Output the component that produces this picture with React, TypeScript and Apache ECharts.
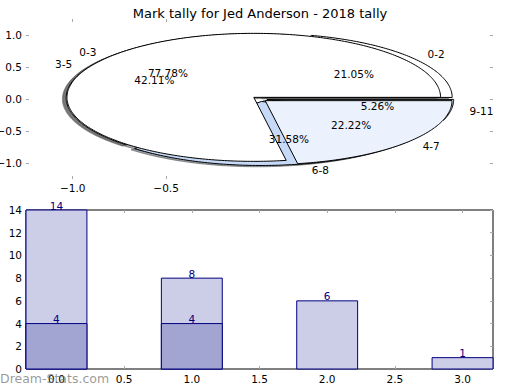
import React, { useEffect, useRef } from 'react';
import * as echarts from 'echarts';

const TITLE = 'Mark tally for Jed Anderson - 2018 tally';
const WATERMARK = 'Dream-Stats.com';

// Pie data (two pies drawn in the same axes)
const pie1Labels = ['0-2', '3-5', '6-8', '9-11'];
const pie1Values = [4, 8, 6, 1];
const pie1Colors = ['#ffffff', '#ffffff', '#c6d9f7', '#dce7fa'];
const pie2Labels = ['0-3', '4-7'];
const pie2Values = [14, 4];
const pie2Colors = ['#ffffff', '#ebf1fd'];
const EXPLODE = 0.04;
const SHADOW_OFFSET = -0.02;

// Bar data
const barX = [0, 1, 2, 3];
const lightValues = [14, 8, 6, 1];
const darkX = [0, 1];
const darkValues = [4, 4];
const BAR_WIDTH = 0.45;

// Tick values
const pieTicksX = [-1, -0.5];
const pieTicksY = [-1, -0.5, 0, 0.5, 1];
const barTicksX = [0, 0.5, 1, 1.5, 2, 2.5, 3];

const FONT = 'DejaVu Sans';
const TICK_COLOR = '#a8a8a8';

type Wedge = { theta1: number; theta2: number; mid: number; cx: number; cy: number; label: string; pct: string; color: string };

function buildWedges(values: number[], labels: string[], colors: string[]): Wedge[] {
  const total = values.reduce((a, b) => a + b, 0);
  let t1 = 0;
  return values.map((v, i) => {
    const t2 = t1 + (v / total) * 360;
    const mid = ((t1 + t2) / 2) * Math.PI / 180;
    const w: Wedge = {
      theta1: t1, theta2: t2, mid,
      cx: EXPLODE * Math.cos(mid), cy: EXPLODE * Math.sin(mid),
      label: labels[i], pct: ((v / total) * 100).toFixed(2) + '%', color: colors[i],
    };
    t1 = t2;
    return w;
  });
}

const wedges1 = buildWedges(pie1Values, pie1Labels, pie1Colors);
const wedges2 = buildWedges(pie2Values, pie2Labels, pie2Colors);
const allWedges = [...wedges1, ...wedges2];

function wedgePoints(w: Wedge, dx: number, dy: number, api: any): number[][] {
  const pts: number[][] = [api.coord([w.cx + dx, w.cy + dy])];
  const n = Math.max(2, Math.ceil(w.theta2 - w.theta1));
  for (let k = 0; k <= n; k++) {
    const t = (w.theta1 + ((w.theta2 - w.theta1) * k) / n) * Math.PI / 180;
    pts.push(api.coord([w.cx + dx + Math.cos(t), w.cy + dy + Math.sin(t)]));
  }
  return pts;
}

function shadowColor(hex: string): string {
  const r = parseInt(hex.slice(1, 3), 16);
  const g = parseInt(hex.slice(3, 5), 16);
  const b = parseInt(hex.slice(5, 7), 16);
  return `rgba(${Math.round(r * 0.3)},${Math.round(g * 0.3)},${Math.round(b * 0.3)},0.5)`;
}

const fmtPie = (v: number) => (v < 0 ? '\u2212' : '') + Math.abs(v).toFixed(1);

function wedgeSeries(list: Wedge[]) {
  return {
    type: 'custom', coordinateSystem: 'cartesian2d', xAxisIndex: 0, yAxisIndex: 0, silent: true, clip: false,
    encode: { x: 0, y: 1 },
    data: list.map((w) => [w.cx, w.cy]),
    renderItem: (params: any, api: any) => {
      const w = list[params.dataIndex];
      return {
        type: 'polygon',
        shape: { points: wedgePoints(w, 0, 0, api) },
        style: { fill: w.color, stroke: '#000', lineWidth: 1 },
      };
    },
  };
}

function barSeries(xs: number[], vals: number[], fill: string) {
  return {
    type: 'custom', coordinateSystem: 'cartesian2d', xAxisIndex: 2, yAxisIndex: 2, silent: true, clip: false,
    encode: { x: 0, y: 1 },
    data: xs.map((x, i) => [x, vals[i]]),
    renderItem: (params: any, api: any) => {
      const x = api.value(0);
      const y = api.value(1);
      const p0 = api.coord([x - BAR_WIDTH / 2, y]);
      const p1 = api.coord([x + BAR_WIDTH / 2, 0]);
      return {
        type: 'group',
        children: [
          {
            type: 'rect',
            shape: { x: p0[0], y: p0[1], width: p1[0] - p0[0], height: p1[1] - p0[1] },
            style: { fill, stroke: '#000080', lineWidth: 1 },
          },
          {
            type: 'text',
            x: (p0[0] + p1[0]) / 2,
            y: p0[1] + 1,
            z2: 10,
            style: { text: String(y), fill: '#000080', fontSize: 10.5, fontFamily: FONT, align: 'center', verticalAlign: 'bottom' },
          },
        ],
      };
    },
  };
}

export default function App() {
  const ref = useRef<HTMLDivElement>(null);

  useEffect(() => {
    if (!ref.current) return;
    const chart = echarts.init(ref.current, null, { renderer: 'svg' });

    const tickBase = { show: true, inside: true, length: 3, lineStyle: { color: TICK_COLOR, width: 1 } };
    const labelBase = { fontSize: 10.5, fontFamily: FONT, color: '#000' };
    const lineOff = { show: false, onZero: false };

    const option: any = {
      animation: false,
      backgroundColor: '#ffffff',
      title: {
        text: TITLE, left: 'center', top: 2,
        textStyle: { fontSize: 13, fontWeight: 'normal', fontFamily: FONT, color: '#000' },
      },
      grid: [
        { left: 26, top: 19, width: 467, height: 160, show: false, containLabel: false, outerBoundsMode: 'none' },
        { left: 26, top: 210, width: 467, height: 159, show: true, borderColor: '#000', borderWidth: 1, backgroundColor: 'transparent', containLabel: false, outerBoundsMode: 'none' },
      ],
      xAxis: [
        { type: 'value', gridIndex: 0, position: 'bottom', min: -1.25, max: 1.25, axisLine: lineOff, splitLine: { show: false },
          axisTick: { ...tickBase, customValues: pieTicksX },
          axisLabel: { ...labelBase, margin: 3, customValues: pieTicksX, formatter: fmtPie } },
        { type: 'value', gridIndex: 0, position: 'top', min: -1.25, max: 1.25, axisLine: lineOff, splitLine: { show: false },
          axisTick: { ...tickBase, customValues: pieTicksX }, axisLabel: { show: false } },
        { type: 'value', gridIndex: 1, position: 'bottom', min: -0.225, max: 3.225, axisLine: lineOff, splitLine: { show: false },
          axisTick: { ...tickBase, customValues: barTicksX },
          axisLabel: { ...labelBase, margin: 4, customValues: barTicksX, formatter: (v: number) => v.toFixed(1) } },
        { type: 'value', gridIndex: 1, position: 'top', min: -0.225, max: 3.225, axisLine: lineOff, splitLine: { show: false },
          axisTick: { ...tickBase, customValues: barTicksX }, axisLabel: { show: false } },
      ],
      yAxis: [
        { type: 'value', gridIndex: 0, position: 'left', min: -1.25, max: 1.25, axisLine: lineOff, splitLine: { show: false },
          axisTick: { ...tickBase, customValues: pieTicksY },
          axisLabel: { ...labelBase, margin: 4, customValues: pieTicksY, formatter: fmtPie } },
        { type: 'value', gridIndex: 0, position: 'right', min: -1.25, max: 1.25, axisLine: lineOff, splitLine: { show: false },
          axisTick: { ...tickBase, customValues: pieTicksY }, axisLabel: { show: false } },
        { type: 'value', gridIndex: 1, position: 'left', min: 0, max: 14, interval: 2, axisLine: lineOff, splitLine: { show: false },
          axisTick: tickBase, axisLabel: { ...labelBase, margin: 4 } },
        { type: 'value', gridIndex: 1, position: 'right', min: 0, max: 14, interval: 2, axisLine: lineOff, splitLine: { show: false },
          axisTick: tickBase, axisLabel: { show: false } },
      ],
      graphic: [
        { type: 'text', left: 0, top: 372, z: 100,
          style: { text: WATERMARK, fill: 'rgba(120,120,120,0.75)', fontSize: 12.5, fontFamily: FONT } },
      ],
      series: [
        // shadows of every wedge, beneath all wedges
        {
          type: 'custom', coordinateSystem: 'cartesian2d', xAxisIndex: 0, yAxisIndex: 0, silent: true, clip: false,
          encode: { x: 0, y: 1 },
          data: allWedges.map((w) => [w.cx, w.cy]),
          renderItem: (params: any, api: any) => {
            const w = allWedges[params.dataIndex];
            const c = shadowColor(w.color);
            return {
              type: 'polygon',
              shape: { points: wedgePoints(w, SHADOW_OFFSET, SHADOW_OFFSET, api) },
              style: { fill: c, stroke: c, lineWidth: 1 },
            };
          },
        },
        wedgeSeries(wedges1),
        wedgeSeries(wedges2),
        // labels and percentages
        {
          type: 'custom', coordinateSystem: 'cartesian2d', xAxisIndex: 0, yAxisIndex: 0, silent: true, clip: false,
          encode: { x: 0, y: 1 },
          data: allWedges.map((w) => [w.cx, w.cy]),
          renderItem: (params: any, api: any) => {
            const w = allWedges[params.dataIndex];
            const lx = w.cx + 1.1 * Math.cos(w.mid);
            const ly = w.cy + 1.1 * Math.sin(w.mid);
            const px = w.cx + 0.6 * Math.cos(w.mid);
            const py = w.cy + 0.6 * Math.sin(w.mid);
            const lp = api.coord([lx, ly]);
            const pp = api.coord([px, py]);
            const al = lx > 0 ? 'left' : 'right';
            return {
              type: 'group',
              children: [
                { type: 'text', x: lp[0], y: lp[1],
                  style: { text: w.label, fill: '#000', fontSize: 10.5, fontFamily: FONT, align: al, verticalAlign: 'middle' } },
                { type: 'text', x: pp[0], y: pp[1],
                  style: { text: w.pct, fill: '#000', fontSize: 10.5, fontFamily: FONT, align: 'center', verticalAlign: 'middle' } },
              ],
            };
          },
        },
        barSeries(barX, lightValues, '#cccde6'),
        barSeries(darkX, darkValues, '#a2a4d1'),
      ],
    };

    chart.setOption(option);
    return () => chart.dispose();
  }, []);

  return (
    <div ref={ref} style={{ position: 'fixed', left: 0, top: 0, width: 520, height: 390, background: '#fff' }} />
  );
}
